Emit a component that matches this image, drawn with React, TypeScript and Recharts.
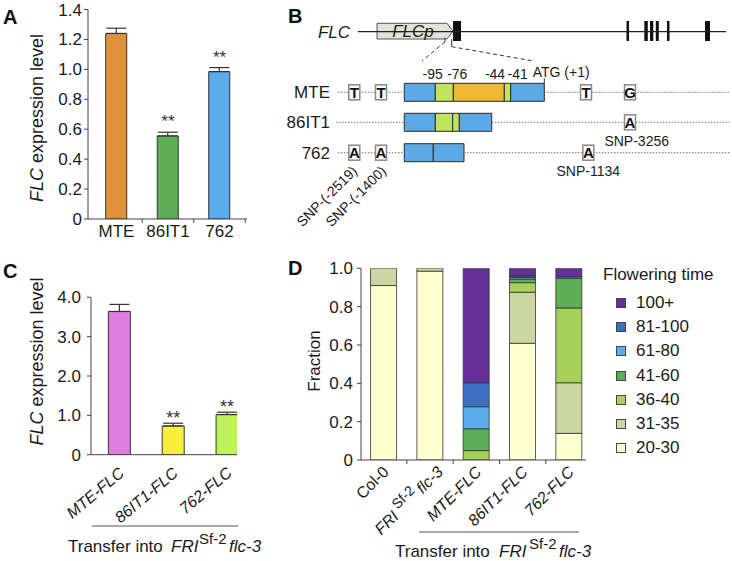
import React from 'react';
import {
  ComposedChart, BarChart, Bar, XAxis, YAxis, ErrorBar, ReferenceDot, ReferenceArea,
  ReferenceLine, Legend, Label, Cell,
} from 'recharts';

const FONT = '"Liberation Sans", Arial, Helvetica, sans-serif';
const AXIS = '#444444';
const TXT = '#1a1a1a';
const BAR_STROKE = '#333333';

// ---------- Panel A ----------
const aCategories = ['MTE', '86IT1', '762'];
const aValues = [1.24, 0.555, 0.985];
const aErrors = [0.035, 0.025, 0.027];
const aSignificance = ['', '**', '**'];
const aTicks = [0, 0.2, 0.4, 0.6, 0.8, 1.0, 1.2, 1.4];
const aColors = ['#E0913A', '#5EAD56', '#5CABEA'];

// ---------- Panel C ----------
const cCategories = ['MTE-FLC', '86IT1-FLC', '762-FLC'];
const cValues = [3.64, 0.73, 1.02];
const cErrors = [0.18, 0.07, 0.06];
const cSignificance = ['', '**', '**'];
const cTicks = [0, 1, 2, 3, 4];
const cColors = ['#E07EE0', '#F7EF3C', '#BDF25C'];

// ---------- Panel D ----------
const dCategories = ['Col-0', 'FRI Sf-2 flc-3', 'MTE-FLC', '86IT1-FLC', '762-FLC'];
const dSeries = ['20-30', '31-35', '36-40', '41-60', '61-80', '81-100', '100+'];
const d20to30 = [0.91, 0.985, 0, 0.609, 0.139];
const d31to35 = [0.09, 0.015, 0, 0.266, 0.264];
const d36to40 = [0, 0, 0.049, 0.05, 0.39];
const d41to60 = [0, 0, 0.114, 0.019, 0.155];
const d61to80 = [0, 0, 0.115, 0.009, 0.007];
const d81to100 = [0, 0, 0.125, 0.007, 0];
const d100plus = [0, 0, 0.597, 0.04, 0.045];
const dTicks = [0, 0.2, 0.4, 0.6, 0.8, 1.0];
const dColors = ['#FFFFD0', '#CBD6A0', '#A8D15A', '#5DAE56', '#5AAEEB', '#3D6FBF', '#66309A'];

// ---------- Panel B (schematic, diagram units) ----------
const bGeneSpan = [108, 476];
const bGeneY = 31.7;
const bPromoterSpan = [127, 203];
const bExonStarts = [203, 376.5, 394.3, 400, 405.8, 417, 455];
const bExonEnds = [211, 379, 397.8, 403.3, 408.8, 419.5, 460];
const bAlleles = ['MTE', '86IT1', '762'];
const bAlleleRow = [92.3, 122.3, 152.7];
const bLeaderStart = [88, 86, 88];
const bBoxStart = 154.3;
const bBoxEnd = [294.3, 241.7, 214];
const bLineEnd = 480;
const bSegStart = [[154.3, 185.3, 203.3, 254.3, 260.7], [154.3, 185.3, 202.7, 209.3], [154.3, 183.3]];
const bSegEnd = [[185.3, 203.3, 254.3, 260.7, 294.3], [185.3, 202.7, 209.3, 241.7], [183.3, 214]];
const bSegType = [['flank', 'motif', 'insert', 'motif', 'flank'], ['flank', 'motif', 'motif', 'flank'], ['flank', 'flank']];
const bSnpRow = [0, 0, 0, 0, 1, 2, 2, 2];
const bSnpPos = [104.3, 131, 336, 380, 380, 104.3, 131, 338.3];
const bSnpAllele = ['T', 'T', 'T', 'G', 'A', 'A', 'A', 'A'];
const bPositionLabels = ['-95', '-76', '-44', '-41'];
const bPositionX = [182.7, 207.3, 245, 267.7];
const bSnpNames = ['SNP-3256', 'SNP-1134'];
const bSnpNameX = [386.7, 338.3];
const bSnpNameY = [145.5, 176];
const bRotSnpNames = ['SNP-(-2519)', 'SNP-(-1400)'];
const bRotSnpX = [108, 137];
const bRotSnpY = [172, 172];

const segColor: Record<string, string> = { flank: '#5BAAE6', motif: '#C2E35C', insert: '#EFB833' };

const aData = aCategories.map((name, i) => ({ x: i + 1, name, value: aValues[i], err: [0, aErrors[i]] }));
const cData = cCategories.map((name, i) => ({ x: i + 1, name, value: cValues[i], err: [0, cErrors[i]] }));
const dCols = [d20to30, d31to35, d36to40, d41to60, d61to80, d81to100, d100plus];
const dData = dCategories.map((name, i) => {
  const row: any = { x: i + 1, name };
  dCols.forEach((col, k) => { row['k' + k] = col[i]; });
  return row;
});

const fmt = (v: number) => (v === 0 ? '0' : v.toFixed(1));
const isBoundary = (v: number) => Math.abs(v - Math.round(v)) > 0.01;

function FlcLabel({ x, y, size }: any) {
  return (
    <text transform={`translate(${x},${y}) rotate(-90)`} textAnchor="middle" fontSize={size} fill={TXT} fontFamily={FONT}>
      <tspan fontStyle="italic">FLC</tspan>
      <tspan>{' expression level'}</tspan>
    </text>
  );
}

const tickA = (props: any) => {
  const { x, y, payload } = props;
  const v = Number(payload.value);
  if (isBoundary(v)) return <line x1={x} x2={x} y1={y} y2={y + 4} stroke={AXIS} strokeWidth={1} />;
  return (
    <text x={x} y={y + 18} textAnchor="middle" fontSize={17} fill={TXT} fontFamily={FONT}>
      {aCategories[Math.round(v) - 1]}
    </text>
  );
};

const tickC = (props: any) => {
  const { x, y, payload } = props;
  const v = Number(payload.value);
  if (isBoundary(v)) return <g />;
  const px = x + 6;
  const py = y + 20;
  return (
    <text x={px} y={py} transform={`rotate(-40, ${px}, ${py})`} textAnchor="end" fontSize={16} fontStyle="italic" fill={TXT} fontFamily={FONT}>
      {cCategories[Math.round(v) - 1]}
    </text>
  );
};

const tickD = (props: any) => {
  const { x, y, payload } = props;
  const v = Number(payload.value);
  if (isBoundary(v)) return <line x1={x} x2={x} y1={y} y2={y + 4} stroke={AXIS} strokeWidth={1} />;
  const idx = Math.round(v) - 1;
  const px = x + 6;
  const py = y + 13;
  if (idx === 1) {
    return (
      <text x={px + 8} y={py} transform={`rotate(-45, ${px + 8}, ${py})`} textAnchor="end" fontSize={16} fill={TXT} fontFamily={FONT}>
        <tspan fontStyle="italic">FRI</tspan>
        <tspan dx={4} dy={-7} fontSize={14}>Sf-2</tspan>
        <tspan dx={3} dy={7} fontStyle="italic">flc-3</tspan>
      </text>
    );
  }
  return (
    <text x={px} y={py} transform={`rotate(-45, ${px}, ${py})`} textAnchor="end" fontSize={16} fontStyle={idx === 0 ? 'normal' : 'italic'} fill={TXT} fontFamily={FONT}>
      {dCategories[idx]}
    </text>
  );
};

function TransferText({ lineX1, lineX2, lineY, baseY, xs }: any) {
  return (
    <g>
      <line x1={lineX1} x2={lineX2} y1={lineY} y2={lineY} stroke="#555" strokeWidth={1} />
      <text y={baseY} fontSize={17} fill={TXT} fontFamily={FONT}>
        <tspan x={xs[0]}>Transfer into</tspan>
        <tspan x={xs[1]} fontStyle="italic">FRI</tspan>
        <tspan x={xs[2]} dy={-8} fontSize={15}>Sf-2</tspan>
        <tspan x={xs[3]} dy={8} fontStyle="italic">flc-3</tspan>
      </text>
    </g>
  );
}

const legendContent = () => (
  <div style={{ fontFamily: FONT, color: TXT, width: 130 }}>
    <div style={{ fontSize: 17, height: 20, lineHeight: '20px', whiteSpace: 'nowrap' }}>Flowering time</div>
    <div style={{ height: 5.5 }} />
    {dSeries.map((s, i) => ({ s, c: dColors[i] })).reverse().map(({ s, c }) => (
      <div key={s} style={{ height: 24.3, display: 'flex', alignItems: 'center', paddingLeft: 13 }}>
        <span style={{ display: 'inline-block', width: 10, height: 10, boxSizing: 'border-box', border: '1px solid #444', background: c }} />
        <span style={{ marginLeft: 10, fontSize: 17, lineHeight: '20px' }}>{s}</span>
      </div>
    ))}
  </div>
);

const letterStyle = (left: number, top: number): React.CSSProperties => ({
  position: 'absolute', left, top, fontSize: 20, fontWeight: 'bold', lineHeight: 1, fontFamily: FONT, color: '#111',
});

function Txt(key: string, x: number, y: number, text: string, opts: any = {}) {
  return (
    <ReferenceDot
      key={key}
      x={x}
      y={y}
      r={1}
      ifOverflow="visible"
      shape={(p: any) => (
        <text
          x={p.cx}
          y={p.cy}
          textAnchor={opts.anchor || 'middle'}
          fontSize={opts.size || 14}
          fontStyle={opts.italic ? 'italic' : 'normal'}
          fontWeight={opts.bold ? 'bold' : 'normal'}
          transform={opts.rotate ? `rotate(${opts.rotate}, ${p.cx}, ${p.cy})` : undefined}
          fill={TXT}
          fontFamily={FONT}
        >
          {text}
        </text>
      )}
    />
  );
}

export default function App() {
  return (
    <div style={{ position: 'absolute', left: 0, top: 0, width: 732, height: 561, background: '#fff', overflow: 'hidden', fontFamily: FONT }}>
      {/* Panel A */}
      <div style={{ position: 'absolute', left: 0, top: 0 }}>
        <BarChart width={250} height={250} data={aData} margin={{ top: 9.5, right: 3, bottom: 0, left: 0 }}>
          <XAxis dataKey="x" type="number" domain={[0.447, 3.534]} allowDataOverflow ticks={[1, 1.5, 2, 2.5, 3, 3.5]} interval={0}
            tickSize={0} tickMargin={0} tickLine={false} height={31} stroke={AXIS} tick={tickA} />
          <YAxis type="number" domain={[0, 1.4]} allowDataOverflow ticks={aTicks} interval={0} width={88} stroke={AXIS}
            tickSize={4} tickMargin={2} tickFormatter={fmt} tick={{ fontSize: 17, fill: TXT, fontFamily: FONT }}>
            <Label content={() => <FlcLabel x={43} y={118} size={18} />} />
          </YAxis>
          <Bar dataKey="value" barSize={21} stroke={BAR_STROKE} strokeWidth={1} isAnimationActive={false}>
            {aData.map((d, i) => <Cell key={d.name} fill={aColors[i]} />)}
            <ErrorBar dataKey="err" width={10} stroke={BAR_STROKE} strokeWidth={1.2} direction="y" isAnimationActive={false} />
          </Bar>
          {aData.map((d, i) => aSignificance[i] ? (
            <ReferenceDot key={'as' + i} x={d.x} y={d.value + aErrors[i]} r={1} ifOverflow="visible"
              shape={(p: any) => <text x={p.cx} y={p.cy - 5} textAnchor="middle" fontSize={17} fill="#333" fontFamily={FONT}>{aSignificance[i]}</text>} />
          ) : null)}
        </BarChart>
      </div>

      {/* Panel C */}
      <div style={{ position: 'absolute', left: 0, top: 262 }}>
        <BarChart width={300} height={299} data={cData} margin={{ top: 35.3, right: 63, bottom: 0, left: 0 }}>
          <XAxis dataKey="x" type="number" domain={[0.4745, 3.186]} allowDataOverflow ticks={[1, 2, 3]} interval={0}
            tickSize={0} tickMargin={0} tickLine={false} height={106.3} stroke={AXIS} tick={tickC}>
            <Label content={() => <TransferText lineX1={91.7} lineX2={238.3} lineY={264} baseY={289.7} xs={[68, 171, 199, 229]} />} />
          </XAxis>
          <YAxis type="number" domain={[0, 4]} allowDataOverflow ticks={cTicks} interval={0} width={91} stroke={AXIS}
            tickSize={4} tickMargin={6} tickFormatter={fmt} tick={{ fontSize: 17, fill: TXT, fontFamily: FONT }}>
            <Label content={() => <FlcLabel x={43} y={99.5} size={18} />} />
          </YAxis>
          <Bar dataKey="value" barSize={22} stroke={BAR_STROKE} strokeWidth={1} isAnimationActive={false}>
            {cData.map((d, i) => <Cell key={d.name} fill={cColors[i]} />)}
            <ErrorBar dataKey="err" width={10} stroke={BAR_STROKE} strokeWidth={1.2} direction="y" isAnimationActive={false} />
          </Bar>
          {cData.map((d, i) => cSignificance[i] ? (
            <ReferenceDot key={'cs' + i} x={d.x} y={d.value + cErrors[i]} r={1} ifOverflow="visible"
              shape={(p: any) => <text x={p.cx} y={p.cy + 1} textAnchor="middle" fontSize={18} fill="#333" fontFamily={FONT}>{cSignificance[i]}</text>} />
          ) : null)}
        </BarChart>
      </div>

      {/* Panel D */}
      <div style={{ position: 'absolute', left: 300, top: 255 }}>
        <BarChart width={432} height={306} data={dData} margin={{ top: 13.3, right: 146, bottom: 0, left: 0 }}>
          <XAxis dataKey="x" type="number" domain={[0.51, 5.367]} allowDataOverflow ticks={[1, 1.5, 2, 2.5, 3, 3.5, 4, 4.5, 5]} interval={0}
            tickSize={0} tickMargin={0} tickLine={false} height={101} stroke={AXIS} tick={tickD}>
            <Label content={() => <TransferText lineX1={119} lineX2={279} lineY={277} baseY={302} xs={[95, 199, 229, 259]} />} />
          </XAxis>
          <YAxis type="number" domain={[0, 1]} allowDataOverflow ticks={dTicks} interval={0} width={61} stroke={AXIS}
            tickSize={4} tickMargin={4} tickFormatter={fmt} tick={{ fontSize: 17, fill: TXT, fontFamily: FONT }}>
            <Label content={() => (
              <text transform="translate(20,106) rotate(-90)" textAnchor="middle" fontSize={17} fill={TXT} fontFamily={FONT}>Fraction</text>
            )} />
          </YAxis>
          <Legend layout="horizontal" verticalAlign="middle" align="center" content={legendContent}
            wrapperStyle={{ left: 303, top: 10, width: 130, height: 200 }} />
          {dSeries.map((s, k) => (
            <Bar key={s} dataKey={'k' + k} name={s} stackId="fl" barSize={26} fill={dColors[k]} stroke={BAR_STROKE} strokeWidth={0.8} isAnimationActive={false} />
          ))}
        </BarChart>
      </div>

      {/* Panel B */}
      <div style={{ position: 'absolute', left: 250, top: 0 }}>
        <ComposedChart width={482} height={240} data={[{ bx: 0, by: 0 }]} margin={{ top: 0, right: 0, bottom: 0, left: 0 }}>
          <XAxis dataKey="bx" type="number" domain={[0, 482]} allowDataOverflow hide />
          <YAxis dataKey="by" type="number" domain={[0, 240]} allowDataOverflow reversed hide />
          {/* gene model */}
          <ReferenceLine segment={[{ x: bGeneSpan[0], y: bGeneY }, { x: bGeneSpan[1], y: bGeneY }]} stroke="#222" strokeWidth={1.2} ifOverflow="visible" />
          <ReferenceArea x1={bPromoterSpan[0]} x2={bPromoterSpan[1]} y1={23.3} y2={39} ifOverflow="visible"
            shape={(p: any) => (
              <path d={`M${p.x},${p.y} L${p.x + p.width - 6},${p.y} L${p.x + p.width},${p.y + p.height / 2} L${p.x + p.width - 6},${p.y + p.height} L${p.x},${p.y + p.height} Z`}
                fill="#E3E4D8" stroke="#555" strokeWidth={1} />
            )} />
          {bExonStarts.map((s, i) => (
            <ReferenceArea key={'ex' + i} x1={s} x2={bExonEnds[i]} y1={21} y2={41} fill="#111" fillOpacity={1} stroke="none" ifOverflow="visible" />
          ))}
          {Txt('flc', 100, 37.8, 'FLC', { anchor: 'end', size: 17, italic: true })}
          {Txt('flcp', 163, 37.2, 'FLCp', { size: 17, italic: true })}
          {/* zoom lines */}
          <ReferenceLine segment={[{ x: 195, y: 37.5 }, { x: 195, y: 42 }]} stroke="#333" strokeWidth={1} ifOverflow="visible" />
          <ReferenceLine segment={[{ x: 201.7, y: 39 }, { x: 201.7, y: 46.7 }]} stroke="#333" strokeWidth={1} ifOverflow="visible" />
          <ReferenceLine segment={[{ x: 195, y: 42 }, { x: 171.7, y: 61 }]} stroke="#333" strokeWidth={1} strokeDasharray="4 3" ifOverflow="visible" />
          <ReferenceLine segment={[{ x: 201.7, y: 46.7 }, { x: 283.3, y: 61 }]} stroke="#333" strokeWidth={1} strokeDasharray="4 3" ifOverflow="visible" />
          <ReferenceLine segment={[{ x: bBoxEnd[0], y: 78.3 }, { x: bBoxEnd[0], y: 83.3 }]} stroke="#333" strokeWidth={1} ifOverflow="visible" />
          {bPositionLabels.map((t, i) => Txt('pl' + i, bPositionX[i], 79, t, { size: 14 }))}
          {Txt('atg', 282.7, 76.7, 'ATG (+1)', { anchor: 'start', size: 14 })}
          {/* allele rows */}
          {bAlleles.map((a, r) => (
            <ReferenceLine key={'l1' + r} segment={[{ x: bLeaderStart[r], y: bAlleleRow[r] }, { x: bBoxStart, y: bAlleleRow[r] }]}
              stroke="#777" strokeWidth={1} strokeDasharray="1.5 1.5" ifOverflow="visible" />
          ))}
          {bAlleles.map((a, r) => (
            <ReferenceLine key={'l2' + r} segment={[{ x: bBoxEnd[r], y: bAlleleRow[r] }, { x: bLineEnd, y: bAlleleRow[r] }]}
              stroke="#777" strokeWidth={1} strokeDasharray="1.5 1.5" ifOverflow="visible" />
          ))}
          {bAlleles.map((a, r) => bSegStart[r].map((s, j) => (
            <ReferenceArea key={'sg' + r + '-' + j} x1={s} x2={bSegEnd[r][j]} y1={bAlleleRow[r] - 9} y2={bAlleleRow[r] + 9}
              fill={segColor[bSegType[r][j]]} fillOpacity={1} stroke="#2a2a2a" strokeWidth={1} ifOverflow="visible" />
          )))}
          {bAlleles.map((a, r) => Txt('an' + r, 80, bAlleleRow[r] + 6.1, a, { anchor: 'end', size: 17 }))}
          {bSnpPos.map((p, i) => (
            <ReferenceDot key={'snp' + i} x={p} y={bAlleleRow[bSnpRow[i]]} r={1} ifOverflow="visible"
              shape={(q: any) => (
                <g>
                  <rect x={q.cx - 5.5} y={q.cy - 7.5} width={11} height={15} fill="#fff" stroke="#888" strokeWidth={1.5} />
                  <text x={q.cx} y={q.cy + 5.5} textAnchor="middle" fontSize={15} fontWeight="bold" fill="#111" fontFamily={FONT}>{bSnpAllele[i]}</text>
                </g>
              )} />
          ))}
          {bSnpNames.map((t, i) => Txt('sn' + i, bSnpNameX[i], bSnpNameY[i], t, { size: 14 }))}
          {bRotSnpNames.map((t, i) => Txt('rs' + i, bRotSnpX[i], bRotSnpY[i], t, { size: 14, anchor: 'end', rotate: -45 }))}
        </ComposedChart>
      </div>

      <div style={letterStyle(3, 7)}>A</div>
      <div style={letterStyle(288, 6)}>B</div>
      <div style={letterStyle(3, 261)}>C</div>
      <div style={letterStyle(288, 258)}>D</div>
    </div>
  );
}
